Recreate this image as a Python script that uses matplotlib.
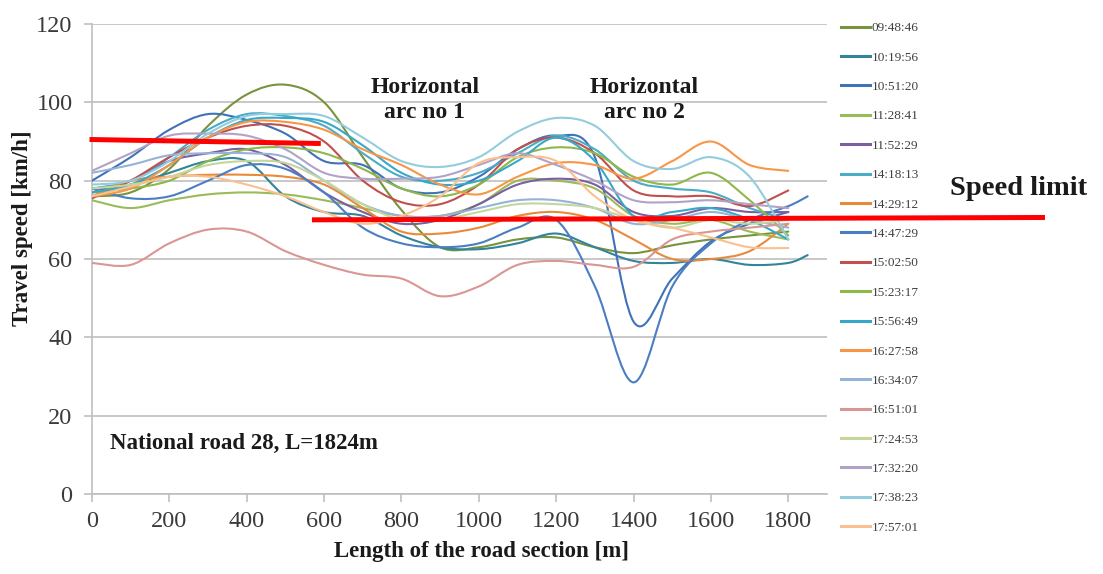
import numpy as np
import matplotlib
matplotlib.use("Agg")
import matplotlib.pyplot as plt
from matplotlib.path import Path
from matplotlib.patches import PathPatch
from matplotlib.lines import Line2D

plt.rcParams["font.family"] = ["Liberation Serif", "DejaVu Serif"]

# --------------------------
# data: speed [km/h] read every 100 m (last column = 1850 m)
# --------------------------
distance = [0, 100, 200, 300, 400, 500, 600, 700, 800, 900, 1000,
            1100, 1200, 1300, 1400, 1500, 1600, 1700, 1800, 1850]

times = ["09:48:46", "10:19:56", "10:51:20", "11:28:41", "11:52:29", "14:18:13",
         "14:29:12", "14:47:29", "15:02:50", "15:23:17", "15:56:49", "16:27:58",
         "16:34:07", "16:51:01", "17:24:53", "17:32:20", "17:38:23", "17:57:01"]

v_094846 = [76, 77, 83, 94, 102, 104.5, 100, 86, 72.5, 63, 63, 65, 65.5, 63, 61.5, 63.5, 65, 66, 67, None]
v_101956 = [78, 79, 82, 85, 85, 76, 72, 71, 66, 63, 62.5, 64, 66.5, 63, 59.5, 59, 60, 58.5, 59, 61]
v_105120 = [80, 86, 93, 97, 95.5, 92, 85, 84, 78, 77, 81, 88, 91.5, 86, 44, 55, 64.5, 69, 72, None]
v_112841 = [75, 73, 75, 76.5, 77, 76.5, 75, 73, 71, 71, 74, 80, 80, 78, 71, 69, 70, 67, 65, None]
v_115229 = [77, 80, 85, 87, 88, 84, 77, 72, 69, 70, 74, 79, 80.5, 79, 72, 71, 73, 72, 72, None]
v_141813 = [78, 80, 86, 93, 97, 96.5, 94, 87, 81, 80, 82, 87, 91.5, 88, 80, 78, 77, 73, 70, None]
v_142912 = [76, 80, 81, 81.5, 81.5, 81, 79, 73, 67, 66.5, 68, 71, 72, 70, 65, 60, 60, 62, 69, None]
v_144729 = [78, 75.5, 76, 80, 84, 83, 77, 68, 64, 63, 64, 68, 70, 53, 28.5, 53, 64, 70, 73.5, 76]
v_150250 = [75.5, 80, 86, 91, 94, 94, 90, 80, 74.5, 74, 79, 88, 91, 87, 77.5, 76, 76, 73.5, 77.5, None]
v_152317 = [77, 78, 80, 85, 88, 88.5, 87, 83, 78, 76, 79, 86, 88.5, 87, 81, 79, 82, 75, 66, None]
v_155649 = [77, 79, 84, 91, 95.5, 96, 95, 89, 82, 79, 80, 85, 91, 85, 71, 72, 73, 70, 65, None]
v_162758 = [76, 78, 84, 91, 95, 95, 93, 88, 84, 79, 76.5, 81, 84.5, 84, 80.5, 85, 90, 84, 82.5, None]
v_163407 = [82, 84, 86.5, 87, 87, 86, 80, 74, 71, 71, 73, 75, 75, 73, 69, 70, 72, 70, 68, None]
v_165101 = [59, 58.5, 64, 67.5, 67, 62, 58.5, 56, 55, 50.5, 53, 58.5, 59.5, 58.5, 58, 65, 67, 68, 69, None]
v_172453 = [78, 79, 81, 84, 85, 84.5, 80, 74, 70, 70, 72, 74, 74, 73, 70, 68, 70, 69, 70, None]
v_173220 = [82.5, 87, 91.5, 92, 91.5, 88, 82, 80.5, 80.5, 81, 84, 87, 84, 80, 75, 74.5, 75, 74, 73, None]
v_173823 = [79, 80, 85, 92, 96.5, 97, 96.5, 91, 85, 83.5, 86, 92.5, 96, 94, 85, 83, 86, 81, 65, None]
v_175701 = [76, 78.5, 81, 81, 79, 76, 72, 69, 71, 76, 84.5, 86, 85, 76, 70, 68, 65.5, 63, 62.8, None]

series = [v_094846, v_101956, v_105120, v_112841, v_115229, v_141813,
          v_142912, v_144729, v_150250, v_152317, v_155649, v_162758,
          v_163407, v_165101, v_172453, v_173220, v_173823, v_175701]

colors = ["#77933C", "#31849B", "#3F72B8", "#9BBB59", "#7B5FA0", "#4BACC6",
          "#E98A3A", "#4A7EC2", "#C0504D", "#8DB84A", "#38A8C8", "#F79646",
          "#95B3D7", "#D99694", "#C3D69B", "#B3A2C7", "#93CDDD", "#FAC090"]


def smooth_path(xs, ys):
    # Excel-like smoothed line: cubic Bezier through the points
    pts = np.array([(x, y) for x, y in zip(xs, ys) if y is not None], dtype=float)
    verts = [pts[0]]
    codes = [Path.MOVETO]
    n = len(pts)
    for i in range(n - 1):
        p0 = pts[i - 1] if i > 0 else pts[i]
        p1 = pts[i]
        p2 = pts[i + 1]
        p3 = pts[i + 2] if i + 2 < n else pts[i + 1]
        verts += [p1 + (p2 - p0) / 6, p2 - (p3 - p1) / 6, p2]
        codes += [Path.CURVE4] * 3
    return Path(verts, codes)


fig = plt.figure(figsize=(11.03, 5.74), dpi=100)
ax = fig.add_axes([92 / 1103, 1 - 494 / 574, (827 - 92) / 1103, (494 - 24) / 574])

handles = []
for vals, col, lab in zip(series, colors, times):
    ax.add_patch(PathPatch(smooth_path(distance, vals), fill=False, edgecolor=col,
                           lw=1.5, capstyle="round", joinstyle="round", zorder=3))
    handles.append(Line2D([], [], color=col, lw=2.2, label=lab))

ax.set_xlim(0, 1900)
ax.set_ylim(0, 120)
ax.set_xticks(range(0, 1801, 200))
ax.set_yticks(range(0, 121, 20))
ax.grid(axis="y", color="#BFBFBF", lw=1.2, zorder=0)
for s in ["top", "right"]:
    ax.spines[s].set_visible(False)
for s in ["left", "bottom"]:
    ax.spines[s].set_color("#BFBFBF")
    ax.spines[s].set_linewidth(1.2)
ax.tick_params(axis="both", colors="#BFBFBF", labelcolor="#3a3a3a", labelsize=17.5,
               length=6, width=1.2, direction="out")
ax.tick_params(axis="y", pad=8)
ax.tick_params(axis="x", pad=6)

# speed limit marks
ax.plot([0, 585], [90.5, 89.5], color="red", lw=3.6, clip_on=False, zorder=5)
ax.plot([575, 2457], [70, 70.6], color="red", lw=3.6, clip_on=False, zorder=5)

bold = dict(fontweight="bold", color="#1a1a1a")
ax.text(2219, 78.1, "Speed limit", fontsize=20.5, va="center", ha="left", **bold)
ax.text(860, 100.6, "Horizontal\narc no 1", fontsize=17, ha="center", va="center",
        linespacing=1.3, **bold)
ax.text(1428, 100.6, "Horizontal\narc no 2", fontsize=17, ha="center", va="center",
        linespacing=1.3, **bold)
ax.text(46, 13, "National road 28, L=1824m", fontsize=16.5, ha="left", va="center", **bold)

fig.text(23 / 1103, 1 - 228 / 574, "Travel speed [km/h]", rotation=90, fontsize=16.5,
         ha="center", va="center", **bold)
fig.text(481 / 1103, 1 - 552 / 574, "Length of the road section [m]", fontsize=16.5,
         ha="center", va="center", **bold)

leg = ax.legend(handles=handles, loc="upper left", bbox_to_anchor=(841 / 1103, 1 - 22 / 574),
                bbox_transform=fig.transFigure, frameon=False, fontsize=9.5,
                handlelength=2.2, handletextpad=0.1, labelspacing=1.3, borderpad=0,
                borderaxespad=0)
for t in leg.get_texts():
    t.set_color("#404040")

fig.savefig("out.png", dpi=100)
